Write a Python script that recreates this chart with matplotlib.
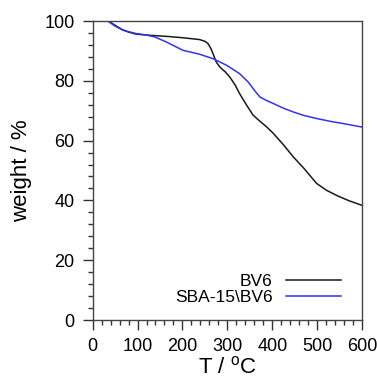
import matplotlib
matplotlib.use('Agg')
import matplotlib.pyplot as plt
from matplotlib.ticker import MultipleLocator

# TGA curves
bv6_t = [35, 50, 65, 80, 97, 130, 170, 201, 238, 250, 257, 263, 268, 275, 283,
         295, 305, 317, 327, 342, 357, 372, 387, 402, 425, 446, 470, 498, 520,
         545, 570, 600]
bv6_w = [100, 98.6, 97.2, 96.3, 95.6, 95.2, 94.8, 94.4, 93.8, 93.2, 92.4, 90.8,
         89.0, 86.3, 84.6, 83.0, 81.3, 78.6, 75.7, 72.0, 68.5, 66.5, 64.6, 62.4,
         58.5, 54.6, 50.7, 45.7, 43.4, 41.5, 39.9, 38.3]

sba_t = [34, 50, 68, 97, 120, 138, 164, 201, 238, 268, 298, 327, 346, 360, 372,
         387, 402, 425, 446, 470, 498, 530, 565, 600]
sba_w = [100, 98.3, 96.9, 95.8, 95.3, 94.7, 93.0, 90.2, 88.9, 87.4, 85.2, 82.4,
         79.6, 76.8, 74.6, 73.4, 72.4, 70.8, 69.6, 68.4, 67.4, 66.4, 65.5, 64.5]

plt.rcParams['font.family'] = ['Liberation Sans', 'DejaVu Sans']

fig = plt.figure(figsize=(3.77, 3.78), dpi=100)
ax = fig.add_axes([0.2454, 0.1534, 0.716, 0.791])

ax.plot(bv6_t, bv6_w, color='#1a1a1a', lw=1.1, label='BV6')
ax.plot(sba_t, sba_w, color='#3333ee', lw=1.1, label='SBA-15\\BV6')

ax.set_xlim(0, 600)
ax.set_ylim(0, 100)
ax.xaxis.set_major_locator(MultipleLocator(100))
ax.xaxis.set_minor_locator(MultipleLocator(20))
ax.yaxis.set_major_locator(MultipleLocator(20))
ax.yaxis.set_minor_locator(MultipleLocator(4))
ax.tick_params(which='major', direction='out', length=7, width=1, labelsize=13,
               top=False, right=False, pad=6, color='#333333')
ax.tick_params(which='minor', direction='out', length=3.5, width=1,
               top=False, right=False, color='#333333')
for sp in ax.spines.values():
    sp.set_color('#444444')
    sp.set_linewidth(1)

ax.set_xlabel('T / $^{\\mathregular{o}}$C', fontsize=16, labelpad=1)
ax.set_ylabel('weight / %', fontsize=16, labelpad=9)

ax.legend(loc='lower right', frameon=False, markerfirst=False, fontsize=12.5,
          handlelength=3.2, handletextpad=0.75, labelspacing=0.05,
          borderaxespad=0, borderpad=0, bbox_to_anchor=(0.922, 0.05))

plt.savefig('out.png', dpi=100)
